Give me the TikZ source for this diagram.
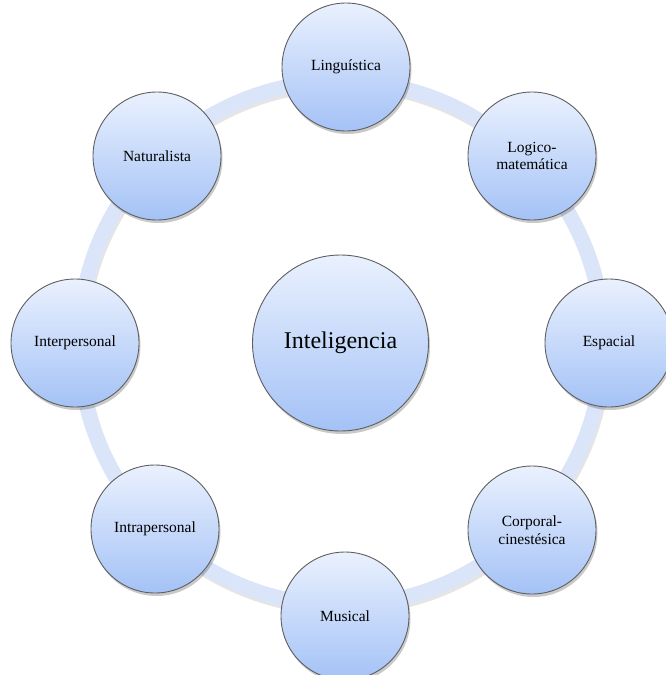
\documentclass[tikz,border=0pt]{standalone}
\usepackage{fontspec}
\setmainfont{Liberation Serif}
\usetikzlibrary{shadows}
\definecolor{ringblue}{RGB}{219,229,249}
\definecolor{topc}{RGB}{234,241,254}
\definecolor{botc}{RGB}{164,194,246}
\definecolor{edgec}{RGB}{95,95,95}
\begin{document}
\begin{tikzpicture}[x=1pt,y=-1pt,
  bub/.style={circle, draw=edgec, line width=0.9pt, top color=topc, bottom color=botc,
    minimum size=128pt, inner sep=0pt, align=center,
    font=\fontsize{15.5}{17.5}\selectfont,
    drop shadow={shadow xshift=1.5pt, shadow yshift=-3pt, opacity=0.3, fill=black!70}},
  bigbub/.style={bub, minimum size=176pt, font=\fontsize{24}{28}\selectfont},
  ringstyle/.style={draw=ringblue, line width=15pt},
  ringshadow/.style={draw=black, opacity=0.10, line width=15pt}]
\useasboundingbox (0,0) rectangle (665,675);
\coordinate (c) at (341,343);
\draw[ringshadow] ([xshift=1.5pt,yshift=-3pt]c) circle (262pt);
\draw[ringstyle] (c) circle (262pt);
\node[bigbub] (center) at (340.5,343) {Inteligencia};
\node[bub] (ling) at (346,67) {Lingu\'{\i}stica};
\node[bub] (logi) at (532,156) {Logico-\\matem\'atica};
\node[bub] (espa) at (609,343) {Espacial};
\node[bub] (corp) at (532,530) {Corporal-\\cinest\'esica};
\node[bub] (musi) at (345,616) {Musical};
\node[bub] (intra) at (155,529) {Intrapersonal};
\node[bub] (inter) at (75,343) {Interpersonal};
\node[bub] (natu) at (157,156) {Naturalista};
\end{tikzpicture}
\end{document}
